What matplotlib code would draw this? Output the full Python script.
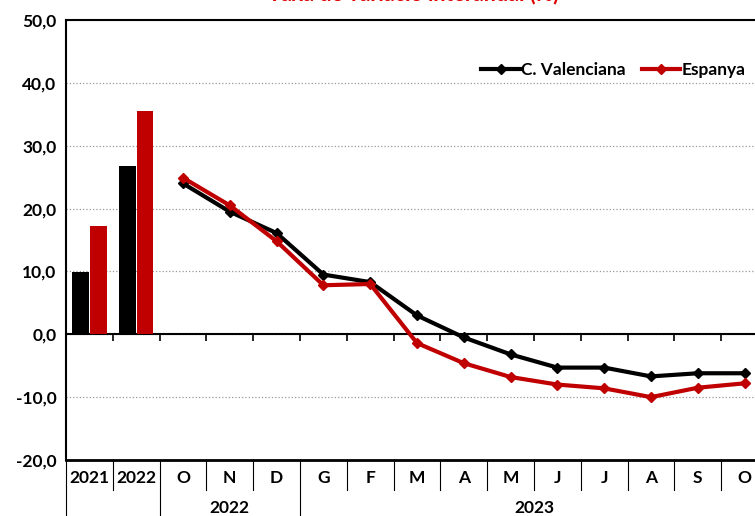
import matplotlib
matplotlib.use("Agg")
import matplotlib.pyplot as plt
import numpy as np

plt.rcParams['font.family'] = ['Lato', 'DejaVu Sans']
plt.rcParams['font.weight'] = 'bold'

# data
year_labels = ['2021', '2022']
cv_years = [9.9, 26.7]
es_years = [17.3, 35.6]

month_labels = ['O', 'N', 'D', 'G', 'F', 'M', 'A', 'M', 'J', 'J', 'A', 'S', 'O']
cv_months = [24.0, 19.5, 16.1, 9.5, 8.3, 3.0, -0.5, -3.2, -5.3, -5.3, -6.7, -6.2, -6.2]
es_months = [24.9, 20.5, 14.8, 7.8, 8.0, -1.4, -4.6, -6.8, -8.0, -8.6, -10.0, -8.5, -7.8]

groups = [('', 0, 1), ('2022', 2, 4), ('2023', 5, 14)]

black = '#000000'
red = '#c00000'

fig = plt.figure(figsize=(7.55, 5.16), dpi=100)
ax = fig.add_axes([66/755, 56/516, 702/755, 440/516])

n_slots = len(year_labels) + len(month_labels)
xb = np.arange(len(year_labels))
xm = np.arange(len(year_labels), n_slots)

# bars for the yearly values
ax.bar(xb - 0.19, cv_years, width=0.355, color=black, zorder=3)
ax.bar(xb + 0.19, es_years, width=0.355, color=red, zorder=3)

# monthly lines
ax.plot(xm, cv_months, color=black, lw=3, marker='D', ms=5.5, zorder=4,
        label='C. Valenciana')
ax.plot(xm, es_months, color=red, lw=3, marker='D', ms=5.5, zorder=4,
        label='Espanya')

ax.set_xlim(-0.5, n_slots - 0.5)
ax.set_ylim(-20, 50)
yt = np.arange(-20, 51, 10)
ax.set_yticks(yt)
ax.set_yticklabels([('%.1f' % v).replace('.', ',') for v in yt])
ax.tick_params(axis='y', length=0, pad=7, labelsize=12.5)
ax.grid(axis='y', color='#999999', ls=':', lw=0.9, zorder=0)

# zero line with category ticks
ax.spines['bottom'].set_position(('data', 0))
ax.spines['bottom'].set_linewidth(1.5)
ax.set_xticks(np.arange(0.5, n_slots - 0.5, 1))
ax.set_xticklabels([])
ax.tick_params(axis='x', direction='out', length=5, width=1.2)
ax.axhline(-20, color=black, lw=2, zorder=5, clip_on=False)
ax.spines['left'].set_linewidth(1.5)
ax.spines['top'].set_linewidth(1.5)
ax.spines['right'].set_visible(False)

# category table below the plot
tr = ax.get_xaxis_transform()
row_labels = year_labels + month_labels
for i, lab in enumerate(row_labels):
    ax.text(i, -0.041, lab, transform=tr, ha='center', va='center',
            fontsize=12.5, fontweight='bold', clip_on=False)
full = [g[1] - 0.5 for g in groups]
for b in np.arange(-0.5, n_slots, 1):
    y0 = -0.13 if b in full else -0.068
    ax.plot([b, b], [0, y0], transform=tr, color=black, lw=0.8, clip_on=False)
for name, a, b in groups:
    if name:
        ax.text((a + b) / 2, -0.109, name, transform=tr, ha='center', va='center',
                fontsize=12.5, fontweight='bold', clip_on=False)

leg = ax.legend(loc='center right', bbox_to_anchor=(0.968, 0.886), ncol=2,
                frameon=False, numpoints=1, handlelength=2.2, columnspacing=0.9,
                handletextpad=0.1, borderaxespad=0, borderpad=0,
                prop={'size': 12.5, 'weight': 'bold'})

fig.text(0.548, 1 - 0.5/516, "Taxa de variació interanual (%)", color='#e00000',
         ha='center', va='baseline', fontsize=15.5, fontweight='bold')

fig.savefig('out.png', dpi=100)
